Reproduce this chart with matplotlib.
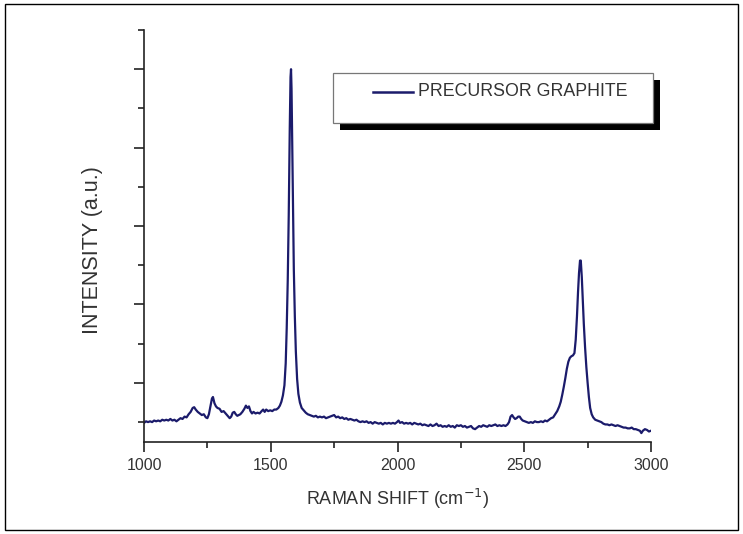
import matplotlib
matplotlib.use("Agg")
import matplotlib.pyplot as plt
from matplotlib.patches import Rectangle
from matplotlib.lines import Line2D
from matplotlib.ticker import MultipleLocator

plt.rcParams['font.family'] = ['Liberation Sans', 'DejaVu Sans']

series_label = "PRECURSOR GRAPHITE"
x_label = "RAMAN SHIFT (cm$^{-1}$)"
y_label = "INTENSITY (a.u.)"
x_ticks = [1000, 1500, 2000, 2500, 3000]

raman_shift = [
    1000, 1008, 1016, 1024, 1032, 1040, 1048, 1056, 1064, 1072, 1080, 1088, 1096, 1104, 1112, 1120,
    1128, 1136, 1144, 1152, 1160, 1168, 1176, 1184, 1192, 1198, 1204, 1212, 1220, 1228, 1236, 1244,
    1250, 1256, 1262, 1268, 1272, 1278, 1284, 1290, 1298, 1306, 1314, 1322, 1330, 1338, 1344, 1350,
    1356, 1362, 1368, 1374, 1380, 1388, 1396, 1402, 1408, 1414, 1420, 1426, 1432, 1440, 1448, 1456,
    1464, 1470, 1476, 1482, 1490, 1498, 1506, 1514, 1522, 1530, 1536, 1542, 1548, 1554, 1559, 1563,
    1567, 1571, 1575, 1578, 1580, 1582, 1585, 1588, 1591, 1595, 1599, 1604, 1609, 1615, 1622, 1630,
    1638, 1646, 1654, 1662, 1670, 1678, 1686, 1694, 1702, 1710, 1718, 1726, 1734, 1742, 1750, 1758,
    1766, 1774, 1782, 1790, 1798, 1806, 1814, 1822, 1830, 1838, 1846, 1854, 1862, 1870, 1878, 1886,
    1894, 1902, 1910, 1918, 1926, 1934, 1942, 1950, 1958, 1966, 1974, 1982, 1990, 1998, 2004, 2010,
    2018, 2026, 2034, 2042, 2050, 2058, 2066, 2074, 2082, 2090, 2098, 2106, 2114, 2122, 2130, 2138,
    2146, 2154, 2162, 2170, 2178, 2186, 2194, 2202, 2210, 2218, 2226, 2234, 2242, 2250, 2258, 2266,
    2274, 2282, 2290, 2298, 2306, 2314, 2322, 2330, 2338, 2346, 2354, 2362, 2370, 2378, 2386, 2394,
    2402, 2410, 2418, 2426, 2434, 2440, 2446, 2452, 2458, 2464, 2470, 2476, 2482, 2488, 2494, 2502,
    2510, 2518, 2526, 2534, 2542, 2550, 2558, 2566, 2574, 2582, 2590, 2598, 2606, 2614, 2622, 2630,
    2638, 2644, 2650, 2656, 2662, 2668, 2674, 2680, 2686, 2692, 2698, 2703, 2708, 2712, 2716, 2720,
    2723, 2727, 2731, 2735, 2740, 2745, 2750, 2755, 2760, 2766, 2772, 2780, 2788, 2796, 2804, 2812,
    2820, 2828, 2836, 2844, 2852, 2860, 2868, 2876, 2884, 2892, 2900, 2908, 2916, 2924, 2932, 2940,
    2948, 2956, 2962, 2968, 2976, 2984, 2992, 3000,
]

intensity = [
    0.49, 0.51, 0.50, 0.51, 0.50, 0.52, 0.51, 0.52, 0.51, 0.53, 0.52, 0.53, 0.52, 0.54, 0.52, 0.53,
    0.51, 0.53, 0.55, 0.54, 0.57, 0.56, 0.60, 0.63, 0.68, 0.69, 0.66, 0.63, 0.61, 0.59, 0.60, 0.56,
    0.55, 0.60, 0.70, 0.80, 0.82, 0.74, 0.70, 0.68, 0.67, 0.63, 0.64, 0.61, 0.58, 0.55, 0.57, 0.62,
    0.63, 0.60, 0.58, 0.59, 0.60, 0.63, 0.67, 0.71, 0.68, 0.70, 0.64, 0.61, 0.63, 0.61, 0.62, 0.61,
    0.64, 0.66, 0.63, 0.66, 0.64, 0.65, 0.64, 0.66, 0.66, 0.68, 0.71, 0.76, 0.84, 0.97, 1.25, 1.70,
    2.30, 3.15, 4.25, 4.90, 5.00, 4.75, 4.00, 3.15, 2.45, 1.85, 1.40, 1.05, 0.86, 0.75, 0.68, 0.65,
    0.62, 0.60, 0.59, 0.58, 0.57, 0.58, 0.56, 0.57, 0.56, 0.57, 0.55, 0.56, 0.57, 0.58, 0.59, 0.56,
    0.57, 0.55, 0.56, 0.54, 0.55, 0.53, 0.54, 0.53, 0.52, 0.53, 0.51, 0.50, 0.51, 0.50, 0.51, 0.49,
    0.50, 0.48, 0.50, 0.49, 0.48, 0.49, 0.47, 0.49, 0.48, 0.49, 0.48, 0.49, 0.48, 0.50, 0.52, 0.49,
    0.50, 0.48, 0.49, 0.48, 0.49, 0.47, 0.49, 0.48, 0.47, 0.48, 0.46, 0.47, 0.46, 0.45, 0.47, 0.45,
    0.46, 0.48, 0.45, 0.46, 0.44, 0.45, 0.44, 0.46, 0.44, 0.45, 0.43, 0.46, 0.45, 0.46, 0.44, 0.45,
    0.43, 0.44, 0.45, 0.42, 0.41, 0.43, 0.45, 0.44, 0.46, 0.45, 0.44, 0.46, 0.45, 0.46, 0.47, 0.45,
    0.46, 0.45, 0.46, 0.45, 0.47, 0.50, 0.57, 0.59, 0.56, 0.54, 0.55, 0.57, 0.57, 0.54, 0.52, 0.51,
    0.50, 0.49, 0.50, 0.49, 0.51, 0.50, 0.50, 0.51, 0.50, 0.52, 0.51, 0.53, 0.55, 0.56, 0.60, 0.64,
    0.70, 0.76, 0.85, 0.95, 1.06, 1.18, 1.27, 1.32, 1.34, 1.35, 1.38, 1.55, 1.85, 2.15, 2.40, 2.56,
    2.56, 2.35, 2.05, 1.75, 1.45, 1.20, 1.00, 0.82, 0.68, 0.60, 0.56, 0.53, 0.52, 0.51, 0.50, 0.48,
    0.47, 0.47, 0.46, 0.47, 0.46, 0.45, 0.46, 0.45, 0.44, 0.43, 0.43, 0.42, 0.42, 0.43, 0.41, 0.41,
    0.40, 0.39, 0.36, 0.39, 0.41, 0.40, 0.38, 0.39,
]

W, H = 743, 534
fig = plt.figure(figsize=(W / 100, H / 100), dpi=100)
fig.patch.set_facecolor('white')

# outer frame
fig.add_artist(Rectangle((5 / W, 1 - 530 / H), 733 / W, 526 / H, transform=fig.transFigure,
                         fill=False, edgecolor='black', linewidth=1.0))

ax = fig.add_axes([144 / W, 1 - 441.7 / H, (651 - 144) / W, (441.7 - 30) / H])
line_color = '#1b1b6b'
ax.plot(raman_shift, intensity, color=line_color, linewidth=1.6)

ax.set_xlim(1000, 3000)
ax.set_ylim(0.25, 5.5)
ax.set_xticks(x_ticks)
ax.xaxis.set_minor_locator(MultipleLocator(250))
ax.yaxis.set_major_locator(MultipleLocator(1))
ax.yaxis.set_minor_locator(MultipleLocator(0.5))
ax.set_yticklabels([])
for s in ['top', 'right']:
    ax.spines[s].set_visible(False)
for s in ['left', 'bottom']:
    ax.spines[s].set_linewidth(1.2)
    ax.spines[s].set_color('#222222')
ax.tick_params(which='major', direction='out', length=7, width=1.2, color='#222222',
               labelsize=11.5, labelcolor='#333333', pad=5)
ax.tick_params(which='minor', direction='out', length=4, width=1.2, color='#222222')
ax.tick_params(axis='y', which='both', labelleft=False)

ax.set_xlabel(x_label, fontsize=13, color='#333333', labelpad=10)
fig.text(93 / W, 1 - 250 / H, y_label, fontsize=15.5, color='#333333', rotation=90,
         ha='center', va='center')

# legend (manual, with solid black drop shadow)
lx0, ly0, lx1, ly1 = 333, 72.7, 652.7, 122.7
fig.add_artist(Rectangle(((lx0 + 7) / W, 1 - (ly1 + 7) / H), (lx1 - lx0) / W, (ly1 - ly0) / H,
                         transform=fig.transFigure, facecolor='black', edgecolor='black', linewidth=0))
fig.add_artist(Rectangle((lx0 / W, 1 - ly1 / H), (lx1 - lx0) / W, (ly1 - ly0) / H,
                         transform=fig.transFigure, facecolor='white', edgecolor='#777777', linewidth=0.9))
fig.add_artist(Line2D([372.7 / W, 412.7 / W], [1 - 91.7 / H, 1 - 91.7 / H], transform=fig.transFigure,
                      color=line_color, linewidth=1.8))
fig.text(418 / W, 1 - 91.7 / H, series_label, fontsize=12.8, color='#333333', va='center', ha='left')

fig.savefig('out.png', dpi=100)
